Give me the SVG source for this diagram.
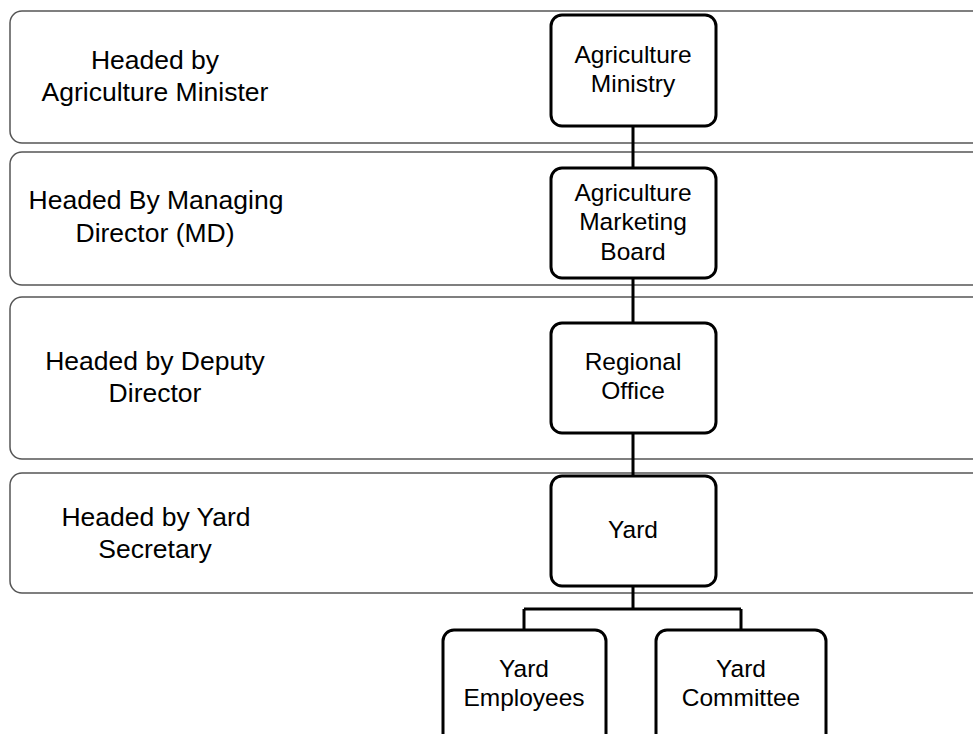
<svg xmlns="http://www.w3.org/2000/svg" width="973" height="734" viewBox="0 0 973 734">
<style>
.band{fill:#fff;stroke:#555;stroke-width:1.5}
.node{fill:#fff;stroke:#000;stroke-width:3}
.conn{stroke:#000;stroke-width:3;fill:none}
text{font-family:"Liberation Sans",Arial,sans-serif;font-size:24.5px;fill:#000;text-anchor:middle}
.lbl{font-size:26.5px}
</style>
<rect width="973" height="734" fill="#fff"/>
<g id="bands">
<rect class="band" x="10" y="11" width="990" height="132" rx="12"/>
<rect class="band" x="10" y="152" width="990" height="133" rx="12"/>
<rect class="band" x="10" y="297" width="990" height="162" rx="12"/>
<rect class="band" x="10" y="473" width="990" height="120" rx="12"/>
</g>
<g id="band-labels">
<text class="lbl" x="155" y="69">Headed by</text>
<text class="lbl" x="155" y="101">Agriculture Minister</text>
<text class="lbl" x="156" y="209">Headed By Managing</text>
<text class="lbl" x="155" y="242">Director (MD)</text>
<text class="lbl" x="155" y="370">Headed by Deputy</text>
<text class="lbl" x="155" y="402">Director</text>
<text class="lbl" x="156" y="526">Headed by Yard</text>
<text class="lbl" x="155" y="558">Secretary</text>
</g>
<g id="connectors">
<path class="conn" d="M633 126V168M633 278V323M633 433V476M633 586V609M524 609H741M524 609V630M741 609V630"/>
</g>
<g id="n-ministry">
<rect class="node" x="551" y="15" width="165" height="111" rx="11"/>
<text x="633" y="63">Agriculture</text>
<text x="633" y="92">Ministry</text>
</g>
<g id="n-board">
<rect class="node" x="551" y="168" width="165" height="110" rx="11"/>
<text x="633" y="201">Agriculture</text>
<text x="633" y="230">Marketing</text>
<text x="633" y="260">Board</text>
</g>
<g id="n-regional">
<rect class="node" x="551" y="323" width="165" height="110" rx="11"/>
<text x="633" y="370">Regional</text>
<text x="633" y="399">Office</text>
</g>
<g id="n-yard">
<rect class="node" x="551" y="476" width="165" height="110" rx="11"/>
<text x="633" y="538">Yard</text>
</g>
<g id="n-employees">
<rect class="node" x="443" y="630" width="163" height="120" rx="11"/>
<text x="524" y="677">Yard</text>
<text x="524" y="706">Employees</text>
</g>
<g id="n-committee">
<rect class="node" x="656" y="630" width="170" height="120" rx="11"/>
<text x="741" y="677">Yard</text>
<text x="741" y="706">Committee</text>
</g>
</svg>
